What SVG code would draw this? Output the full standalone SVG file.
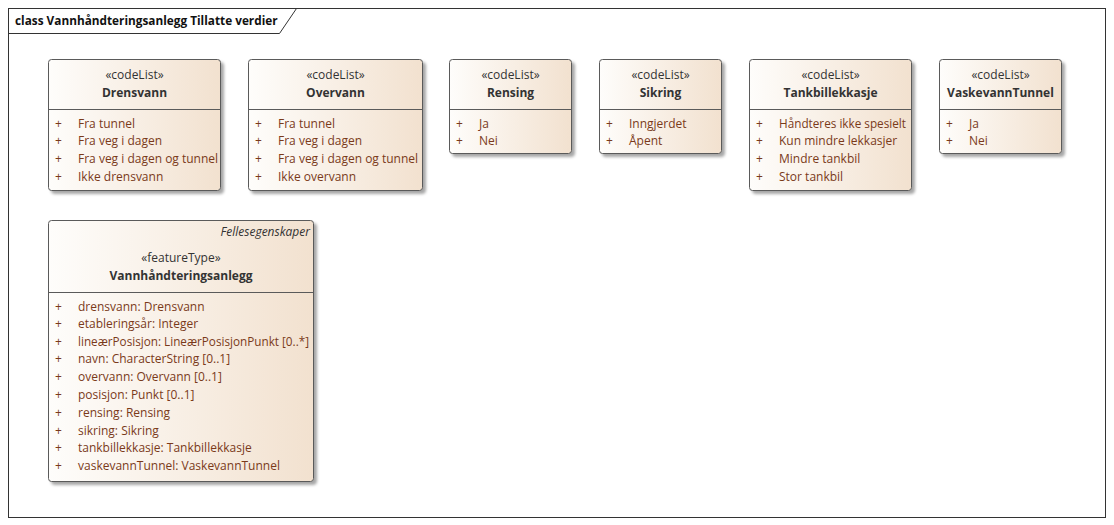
<svg xmlns="http://www.w3.org/2000/svg" width="1114" height="525" viewBox="0 0 1114 525">
<defs>
<linearGradient id="g" x1="0" y1="0" x2="1" y2="0">
<stop offset="0" stop-color="#fefdfb"/>
<stop offset="1" stop-color="#f2e1cf"/>
</linearGradient>
<filter id="sh" x="-10%" y="-10%" width="130%" height="130%">
<feGaussianBlur in="SourceAlpha" stdDeviation="1.5"/>
<feOffset dx="2.5" dy="2.5"/>
<feComponentTransfer><feFuncA type="linear" slope="0.35"/></feComponentTransfer>
<feMerge><feMergeNode/><feMergeNode in="SourceGraphic"/></feMerge>
</filter>
</defs>
<style>
text{font-family:"Open Sans","Noto Sans","DejaVu Sans",sans-serif;}
.box{fill:url(#g);stroke:#5a5a5a;stroke-width:1;filter:url(#sh);}
.sep{stroke:#5a5a5a;stroke-width:1;}
.st{font-size:12px;fill:#333;text-anchor:middle;}
.nm{font-size:12px;font-weight:bold;fill:#333;text-anchor:middle;}
.at{font-size:12px;fill:#7a3a1a;}
.pl{font-size:12px;fill:#7a3a1a;}
.it{font-size:12px;font-style:italic;fill:#333;text-anchor:end;}
.title{font-size:11.8px;font-weight:bold;fill:#111;}
</style>
<rect x="0" y="0" width="1114" height="525" fill="#fff"/>
<g id="frame">
<rect x="8.5" y="8.5" width="1097" height="509" fill="none" stroke="#333" stroke-width="1"/>
<path d="M8.5 33.5 H279.5 L296.5 8.5" fill="none" stroke="#333" stroke-width="1"/>
<text class="title" x="15" y="25">class Vannhåndteringsanlegg Tillatte verdier</text>
</g>
<g id="connectors"></g>
<g id="Drensvann">
<rect class="box" x="48.5" y="59.5" width="172" height="131" rx="3"/>
<line class="sep" x1="48.5" y1="109.5" x2="220.5" y2="109.5"/>
<text class="st" x="134.5" y="79">«codeList»</text>
<text class="nm" x="134.5" y="97">Drensvann</text>
<text class="pl" x="55" y="128">+</text><text class="at" x="78" y="128">Fra tunnel</text>
<text class="pl" x="55" y="145">+</text><text class="at" x="78" y="145">Fra veg i dagen</text>
<text class="pl" x="55" y="163">+</text><text class="at" x="78" y="163">Fra veg i dagen og tunnel</text>
<text class="pl" x="55" y="181">+</text><text class="at" x="78" y="181">Ikke drensvann</text>
</g>
<g id="Overvann">
<rect class="box" x="248.5" y="59.5" width="174" height="131" rx="3"/>
<line class="sep" x1="248.5" y1="109.5" x2="422.5" y2="109.5"/>
<text class="st" x="335.5" y="79">«codeList»</text>
<text class="nm" x="335.5" y="97">Overvann</text>
<text class="pl" x="255" y="128">+</text><text class="at" x="278" y="128">Fra tunnel</text>
<text class="pl" x="255" y="145">+</text><text class="at" x="278" y="145">Fra veg i dagen</text>
<text class="pl" x="255" y="163">+</text><text class="at" x="278" y="163">Fra veg i dagen og tunnel</text>
<text class="pl" x="255" y="181">+</text><text class="at" x="278" y="181">Ikke overvann</text>
</g>
<g id="Rensing">
<rect class="box" x="449.5" y="59.5" width="122" height="94" rx="3"/>
<line class="sep" x1="449.5" y1="109.5" x2="571.5" y2="109.5"/>
<text class="st" x="510.5" y="79">«codeList»</text>
<text class="nm" x="510.5" y="97">Rensing</text>
<text class="pl" x="456" y="128">+</text><text class="at" x="479" y="128">Ja</text>
<text class="pl" x="456" y="145">+</text><text class="at" x="479" y="145">Nei</text>
</g>
<g id="Sikring">
<rect class="box" x="599.5" y="59.5" width="122" height="94" rx="3"/>
<line class="sep" x1="599.5" y1="109.5" x2="721.5" y2="109.5"/>
<text class="st" x="660.5" y="79">«codeList»</text>
<text class="nm" x="660.5" y="97">Sikring</text>
<text class="pl" x="606" y="128">+</text><text class="at" x="629" y="128">Inngjerdet</text>
<text class="pl" x="606" y="145">+</text><text class="at" x="629" y="145">Åpent</text>
</g>
<g id="Tankbillekkasje">
<rect class="box" x="749.5" y="59.5" width="162" height="131" rx="3"/>
<line class="sep" x1="749.5" y1="109.5" x2="911.5" y2="109.5"/>
<text class="st" x="830.5" y="79">«codeList»</text>
<text class="nm" x="830.5" y="97">Tankbillekkasje</text>
<text class="pl" x="756" y="128">+</text><text class="at" x="779" y="128" textLength="127" lengthAdjust="spacingAndGlyphs">Håndteres ikke spesielt</text>
<text class="pl" x="756" y="145">+</text><text class="at" x="779" y="145">Kun mindre lekkasjer</text>
<text class="pl" x="756" y="163">+</text><text class="at" x="779" y="163">Mindre tankbil</text>
<text class="pl" x="756" y="181">+</text><text class="at" x="779" y="181">Stor tankbil</text>
</g>
<g id="VaskevannTunnel">
<rect class="box" x="939.5" y="59.5" width="122" height="94" rx="3"/>
<line class="sep" x1="939.5" y1="109.5" x2="1061.5" y2="109.5"/>
<text class="st" x="1000.5" y="79">«codeList»</text>
<text class="nm" x="1000.5" y="97">VaskevannTunnel</text>
<text class="pl" x="946" y="128">+</text><text class="at" x="969" y="128">Ja</text>
<text class="pl" x="946" y="145">+</text><text class="at" x="969" y="145">Nei</text>
</g>
<g id="Vannhandteringsanlegg">
<rect class="box" x="48.5" y="220.5" width="265" height="261" rx="3"/>
<line class="sep" x1="48.5" y1="292.5" x2="313.5" y2="292.5"/>
<text class="it" x="310" y="236">Fellesegenskaper</text>
<text class="st" x="181" y="262">«featureType»</text>
<text class="nm" x="181" y="280">Vannhåndteringsanlegg</text>
<text class="pl" x="55" y="311">+</text><text class="at" x="78" y="311">drensvann: Drensvann</text>
<text class="pl" x="55" y="328">+</text><text class="at" x="78" y="328">etableringsår: Integer</text>
<text class="pl" x="55" y="346">+</text><text class="at" x="78" y="346" textLength="231" lengthAdjust="spacingAndGlyphs">lineærPosisjon: LineærPosisjonPunkt [0..*]</text>
<text class="pl" x="55" y="363">+</text><text class="at" x="78" y="363">navn: CharacterString [0..1]</text>
<text class="pl" x="55" y="381">+</text><text class="at" x="78" y="381">overvann: Overvann [0..1]</text>
<text class="pl" x="55" y="399">+</text><text class="at" x="78" y="399">posisjon: Punkt [0..1]</text>
<text class="pl" x="55" y="417">+</text><text class="at" x="78" y="417">rensing: Rensing</text>
<text class="pl" x="55" y="435">+</text><text class="at" x="78" y="435">sikring: Sikring</text>
<text class="pl" x="55" y="452">+</text><text class="at" x="78" y="452">tankbillekkasje: Tankbillekkasje</text>
<text class="pl" x="55" y="470">+</text><text class="at" x="78" y="470">vaskevannTunnel: VaskevannTunnel</text>
</g>
</svg>
